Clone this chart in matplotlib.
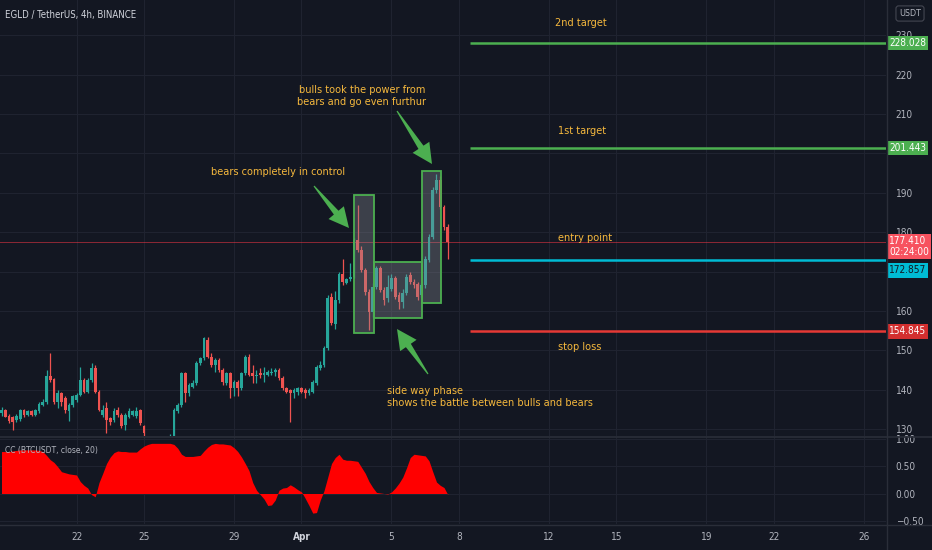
import os, glob
import numpy as np
import pandas as pd
import matplotlib
matplotlib.use('Agg')
import matplotlib.pyplot as plt
from matplotlib import font_manager
from matplotlib.font_manager import FontProperties
from matplotlib.patches import Rectangle, Polygon
from matplotlib.lines import Line2D
import matplotlib.transforms as mtransforms

# ---------------- data ----------------
opens = [134.0, 134.9, 133.4, 133.0, 132.4, 132.5, 134.9, 133.6, 134.5, 133.6,
         134.5, 136.2, 136.8, 143.4, 142.7, 137.0, 139.1, 137.9, 134.5, 136.2,
         137.4, 138.7, 142.5, 139.5, 142.5, 145.5, 139.5, 133.6, 135.3, 132.8,
         132.4, 134.9, 133.6, 131.1, 133.2, 133.6, 133.4, 134.9, 130.7, 127.8,
         126.5, 125.3, 126.2, 125.0, 125.9, 126.8, 127.6, 134.5, 136.2, 144.2,
         139.1, 140.8, 141.7, 146.7, 148.0, 152.7, 148.4, 146.3, 147.6, 145.0,
         141.7, 144.2, 140.4, 142.1, 140.4, 144.2, 148.4, 144.2, 143.4, 144.2,
         143.8, 143.8, 144.2, 144.6, 145.0, 142.9, 140.4, 140.0, 139.1, 139.5,
         140.4, 140.0, 139.1, 139.5, 141.7, 145.5, 146.3, 150.5, 163.6, 156.8,
         162.8, 169.5, 167.2, 168.0, 168.7, 178.0, 175.5, 170.4, 164.9, 159.8,
         166.2, 170.8, 165.3, 163.2, 165.7, 168.3, 164.0, 162.3, 164.5, 169.1,
         167.4, 166.8, 164.0, 166.6, 172.9, 178.8, 190.7, 193.3, 186.4, 181.3]
highs = [135.6, 135.2, 133.9, 133.4, 133.9, 135.2, 135.2, 134.9, 134.9, 135.2,
         136.8, 137.6, 145.0, 149.3, 142.9, 140.0, 139.5, 138.3, 136.6, 138.7,
         139.1, 145.9, 142.9, 142.9, 146.7, 146.3, 140.0, 136.2, 137.0, 133.2,
         135.3, 135.7, 134.0, 134.0, 135.3, 134.9, 135.6, 135.2, 131.1, 128.0,
         127.0, 126.8, 126.6, 126.5, 127.6, 128.8, 135.3, 136.6, 144.6, 144.6,
         141.7, 142.5, 147.2, 148.4, 153.5, 153.5, 149.3, 148.0, 148.0, 145.5,
         144.6, 144.6, 142.5, 142.5, 144.6, 148.9, 149.1, 146.3, 145.0, 145.5,
         145.9, 145.0, 145.5, 145.5, 145.5, 143.4, 140.8, 140.1, 140.4, 140.8,
         140.8, 140.4, 140.4, 142.5, 146.3, 147.2, 151.0, 164.0, 164.5, 165.0,
         170.0, 173.3, 168.5, 172.1, 178.5, 186.9, 176.5, 171.0, 165.5, 167.0,
         171.5, 171.5, 166.0, 169.2, 169.5, 169.0, 164.8, 165.5, 169.5, 170.0,
         168.0, 167.4, 167.2, 174.0, 179.5, 191.5, 194.7, 194.2, 187.0, 182.0]
lows = [133.4, 133.0, 131.7, 129.8, 131.9, 132.2, 133.0, 133.4, 133.4, 133.4,
        134.2, 135.9, 136.4, 142.1, 136.4, 135.3, 135.9, 134.0, 132.2, 135.7,
        137.0, 138.3, 139.1, 139.1, 142.1, 139.1, 134.5, 133.2, 129.0, 131.1,
        131.9, 133.0, 130.2, 129.8, 132.8, 133.4, 132.8, 131.1, 128.1, 125.8,
        124.6, 124.8, 124.2, 124.3, 125.4, 126.2, 127.0, 134.0, 135.7, 137.0,
        138.3, 140.4, 141.2, 146.3, 147.6, 148.0, 145.9, 144.6, 144.6, 141.2,
        141.2, 137.9, 138.3, 138.3, 140.0, 143.8, 143.4, 141.7, 141.7, 142.9,
        142.1, 143.4, 143.8, 143.4, 142.5, 140.0, 139.1, 131.9, 137.9, 138.7,
        139.1, 137.9, 138.7, 139.1, 141.2, 145.0, 145.9, 150.0, 156.5, 155.5,
        162.0, 166.5, 166.8, 167.6, 168.3, 175.0, 170.0, 164.0, 155.2, 158.5,
        165.5, 164.8, 161.5, 162.3, 165.0, 163.0, 160.5, 160.8, 164.0, 166.8,
        165.8, 162.8, 163.5, 165.8, 172.4, 178.3, 190.0, 185.8, 180.5, 173.3]
closes = [134.9, 133.2, 132.2, 131.9, 133.4, 134.9, 133.6, 134.5, 133.6, 134.9,
          136.4, 137.0, 143.4, 142.5, 137.0, 139.1, 137.0, 134.9, 136.2, 138.3,
          138.7, 142.5, 139.5, 142.5, 145.5, 139.5, 134.9, 134.9, 132.4, 131.9,
          134.5, 133.6, 130.7, 133.6, 134.5, 134.5, 134.7, 131.5, 129.0, 126.5,
          125.3, 126.2, 125.0, 125.9, 126.8, 127.6, 134.9, 136.2, 144.2, 139.1,
          141.2, 141.7, 146.7, 148.0, 153.1, 148.4, 146.3, 147.6, 145.0, 142.1,
          144.2, 140.4, 142.1, 140.4, 144.2, 148.4, 143.8, 143.4, 143.8, 143.8,
          144.2, 144.4, 144.6, 145.0, 142.9, 140.4, 139.5, 139.1, 140.0, 140.4,
          139.5, 139.1, 140.0, 142.1, 145.9, 146.3, 150.5, 163.2, 157.0, 162.8,
          169.5, 167.4, 168.0, 168.7, 178.0, 175.5, 170.4, 164.9, 159.8, 166.2,
          170.8, 165.3, 162.8, 166.0, 168.3, 163.6, 162.3, 164.5, 168.7, 167.4,
          166.6, 163.6, 166.6, 173.3, 178.8, 190.7, 193.3, 186.4, 181.3, 177.41]
cc_values = [0.77, 0.77, 0.77, 0.78, 0.79, 0.80, 0.80, 0.80, 0.80, 0.80,
             0.79, 0.77, 0.70, 0.62, 0.57, 0.49, 0.40, 0.38, 0.36, 0.35,
             0.34, 0.22, 0.15, 0.10, -0.02, -0.06, 0.20, 0.37, 0.55, 0.67,
             0.75, 0.78, 0.77, 0.77, 0.76, 0.76, 0.76, 0.82, 0.87, 0.90,
             0.92, 0.92, 0.92, 0.92, 0.92, 0.92, 0.90, 0.83, 0.72, 0.68,
             0.68, 0.68, 0.69, 0.70, 0.78, 0.85, 0.90, 0.92, 0.91, 0.91,
             0.90, 0.89, 0.84, 0.77, 0.67, 0.55, 0.42, 0.20, 0.06, -0.02,
             -0.10, -0.22, -0.21, -0.12, 0.06, 0.10, 0.11, 0.16, 0.12, 0.07,
             0.03, -0.09, -0.22, -0.36, -0.35, -0.12, 0.05, 0.30, 0.55, 0.66,
             0.72, 0.63, 0.61, 0.61, 0.60, 0.59, 0.48, 0.37, 0.22, 0.11,
             0.02, 0.01, 0.00, -0.01, 0.03, 0.10, 0.19, 0.30, 0.47, 0.66,
             0.72, 0.71, 0.70, 0.69, 0.60, 0.40, 0.21, 0.15, 0.11, -0.02]
first_candle = '2021-03-18 16:00'
date_ticks = ['2021-03-22', '2021-03-25', '2021-03-29', '2021-04-01', '2021-04-05',
              '2021-04-08', '2021-04-12', '2021-04-15', '2021-04-19', '2021-04-22',
              '2021-04-26']
date_labels = ['22', '25', '29', 'Apr', '5', '8', '12', '15', '19', '22', '26']
price_ticks = [130, 140, 150, 160, 170, 180, 190, 200, 210, 220, 230]
price_tick_labels = ['130', '140', '150', '160', '', '180', '190', '', '210', '220', '230']
cc_ticks = [1.0, 0.5, 0.0, -0.5]
cc_labels = ['1.00', '0.50', '0.00', '\u22120.50']
target2 = 228.028
target1 = 201.443
entry = 172.857
stop = 154.845
last_price = 177.41
countdown = '02:24:00'

# ---------------- fonts ----------------
def find_font(names):
    files = [f.fname for f in font_manager.fontManager.ttflist]
    files += glob.glob('/usr/share/fonts/**/*.ttf', recursive=True)
    for n in names:
        for f in files:
            if os.path.basename(f) == n:
                return f
    return None

reg_path = find_font(['LiberationSansNarrow-Regular.ttf', 'DejaVuSansCondensed.ttf',
                      'RobotoCondensed-Regular.ttf'])
bold_path = find_font(['LiberationSansNarrow-Bold.ttf', 'DejaVuSansCondensed-Bold.ttf',
                       'RobotoCondensed-Bold.ttf'])
narrow = reg_path is not None and 'Liberation' in os.path.basename(reg_path)
scale = 1.0 if narrow else 0.85

def fp(size, bold=False):
    p = bold_path if bold and bold_path else reg_path
    if p:
        return FontProperties(fname=p, size=size * scale)
    return FontProperties(family='DejaVu Sans', size=size * 0.8,
                          weight='bold' if bold else 'normal')

# ---------------- geometry ----------------
W, H = 932, 550
BG = '#131722'
GRID = '#1f2330'
SEP = '#2a2e39'
TXT = '#b2b5be'
GOLD = '#f5b83d'
GREEN = '#4caf50'
CYAN = '#00bcd4'
RED = '#e53935'
UP = '#26a69a'
DOWN = '#ef5350'

times = pd.date_range(first_candle, periods=len(closes), freq='4h')
ref = pd.Timestamp('2021-03-01')
def to_day(ts):
    return (pd.to_datetime(ts) - ref) / pd.Timedelta('1D') + 1
day = np.asarray(to_day(times), dtype=float)
tick_days = np.asarray(to_day(pd.DatetimeIndex(date_ticks)), dtype=float)

x_left, x_right = 18.6, 18.6 + 886 / 22.5
py = lambda y: (941.4 - y) / 3.94          # pixel row -> price (layout only)
px = lambda x: 18.6 + x / 22.5            # pixel col -> day   (layout only)

fig = plt.figure(figsize=(W / 100, H / 100), dpi=100, facecolor=BG)
ax = fig.add_axes([0, 1 - 436 / H, 886 / W, 436 / H], facecolor=BG)
ax2 = fig.add_axes([0, 1 - 524 / H, 886 / W, 87 / H], facecolor=BG)

for a in (ax, ax2):
    for s in a.spines.values():
        s.set_visible(False)
    a.set_xlim(x_left, x_right)
    a.set_xticks(tick_days)
    a.grid(True, color=GRID, lw=0.8)
    a.set_axisbelow(True)
    a.yaxis.tick_right()
    a.tick_params(axis='y', length=0, pad=7, colors=TXT)
    a.tick_params(axis='x', length=0, colors=TXT)

ax.set_ylim(py(436), py(0))
ax.set_yticks(price_ticks)
ax.set_yticklabels(price_tick_labels)
ax.set_xticklabels([])
for lab in ax.get_yticklabels():
    lab.set_fontproperties(fp(8.5))

ax2.set_ylim((493.5 - 524) / 54.5, (493.5 - 437) / 54.5)
ax2.set_yticks(cc_ticks)
ax2.set_yticklabels(cc_labels)
for lab in ax2.get_yticklabels():
    lab.set_fontproperties(fp(8.5))
ax2.set_xticklabels(date_labels)
ax2.tick_params(axis='x', pad=6)
for lab, t in zip(ax2.get_xticklabels(), date_labels):
    lab.set_fontproperties(fp(8.5, bold=(t == 'Apr')))
    if t == 'Apr':
        lab.set_color('#d1d4dc')

# ---------------- candles ----------------
o = np.array(opens); c = np.array(closes); h = np.array(highs); l = np.array(lows)
cols = np.where(c >= o, UP, DOWN)
ax.vlines(day, l, h, colors=cols, lw=0.9, zorder=3)
body = np.maximum(np.abs(c - o), 0.3)
ax.bar(day, body, bottom=np.minimum(o, c), width=0.13, color=cols, lw=0, zorder=3)

# current price line
ax.axhline(last_price, color='#f23645', lw=0.7, alpha=0.55, zorder=2)

# boxes
boxes = [((354, 195), (374, 333)), ((374, 262), (422, 318)), ((422, 171), (441, 303))]
for (x0, y0), (x1, y1) in boxes:
    ax.add_patch(Rectangle((px(x0), py(y1)), px(x1) - px(x0), py(y0) - py(y1),
                           fc='#8a8d96', alpha=0.35, ec='none', zorder=4))
    ax.add_patch(Rectangle((px(x0), py(y1)), px(x1) - px(x0), py(y0) - py(y1),
                           fc='none', ec=GREEN, lw=1.3, zorder=5))

# level lines
lx0 = px(470)
ax.hlines(target2, lx0, x_right, color=GREEN, lw=1.8, zorder=3)
ax.hlines(target1, lx0, x_right, color=GREEN, lw=1.8, zorder=3)
ax.hlines(entry, lx0, x_right, color=CYAN, lw=1.8, zorder=3)
ax.hlines(stop, lx0, x_right, color=RED, lw=1.8, zorder=3)

TS = 9.2
ax.text(px(581), py(23), '2nd target', color=GOLD, ha='center', va='center', fontproperties=fp(TS))
ax.text(px(582), py(131), '1st target', color=GOLD, ha='center', va='center', fontproperties=fp(TS))
ax.text(px(585), py(238), 'entry point', color=GOLD, ha='center', va='center', fontproperties=fp(TS))
ax.text(px(580), py(347), 'stop loss', color=GOLD, ha='center', va='center', fontproperties=fp(TS))

ax.text(px(278), py(172), 'bears completely in control', color=GOLD, ha='center', va='center',
        fontproperties=fp(TS))
ax.text(px(362), py(96), 'bulls took the power from\nbears and go even furthur', color=GOLD,
        ha='center', va='center', fontproperties=fp(TS), linespacing=1.25, multialignment='center')
ax.text(px(387), py(397), 'side way phase\nshows the battle between bulls and bears', color=GOLD,
        ha='left', va='center', fontproperties=fp(TS), linespacing=1.25)

# arrows (built in pixel space, converted to data)
def arrow(tail, tip, head_len=20, head_w=10, shaft_w=3.0, tail_w=0.6):
    t = np.array(tail, float); p = np.array(tip, float)
    u = (p - t) / np.linalg.norm(p - t)
    n = np.array([-u[1], u[0]])
    b = p - u * head_len
    pts = [t + n * tail_w, b + n * shaft_w, b + n * head_w, p,
           b - n * head_w, b - n * shaft_w, t - n * tail_w]
    data = [(px(q[0]), py(q[1])) for q in pts]
    ax.add_patch(Polygon(data, closed=True, fc=GREEN, ec='none', zorder=6))

arrow((314, 186), (349, 228))
arrow((397, 111), (432, 164))
arrow((428, 374), (397, 329))

# price axis labels
bt = mtransforms.blended_transform_factory(ax.transAxes, ax.transData)
def plabel(y, text, fc, tc='white', dy=0, va='center'):
    ax.annotate(text, xy=(1.0, y), xycoords=bt, xytext=(3, dy), textcoords='offset pixels',
                ha='left', va=va, color=tc, fontproperties=fp(8.5), zorder=20,
                annotation_clip=False, linespacing=1.1,
                bbox=dict(boxstyle='square,pad=0.22', fc=fc, ec='none'))

plabel(target2, '228.028', GREEN)
plabel(target1, '201.443', GREEN)
plabel(last_price, '177.410\n' + countdown, '#f7525f', dy=6, va='top')
plabel(entry, '172.857', CYAN, tc='#131722', dy=-10)
plabel(stop, '154.845', '#d32f2f')

# ---------------- indicator ----------------
v = np.array(cc_values)
ax2.fill_between(day, 0, v, color='#ff0000', lw=0, zorder=3)
ax2.text(5 / 886, (524 - 450) / 87, 'CC (BTCUSDT, close, 20)', transform=ax2.transAxes,
         color=TXT, ha='left', va='center', fontproperties=fp(7.2), zorder=5)

# header
fig.text(5 / W, 1 - 15 / H, 'EGLD / TetherUS, 4h, BINANCE', color='#d1d4dc', ha='left',
         va='center', fontproperties=fp(8.2))
fig.text(910 / W, 1 - 13.5 / H, 'USDT', color=TXT, ha='center', va='center',
         fontproperties=fp(7.5),
         bbox=dict(boxstyle='round,pad=0.35,rounding_size=0.3', fc=BG, ec='#434651', lw=0.8))

# separators
fig.add_artist(Line2D([886.5 / W] * 2, [0, 1], transform=fig.transFigure, color=SEP, lw=1))
fig.add_artist(Line2D([0, 1], [1 - 436.5 / H] * 2, transform=fig.transFigure, color=SEP, lw=1.2))
fig.add_artist(Line2D([0, 1], [1 - 524.5 / H] * 2, transform=fig.transFigure, color=SEP, lw=1))

fig.savefig('out.png', dpi=100, facecolor=BG)
